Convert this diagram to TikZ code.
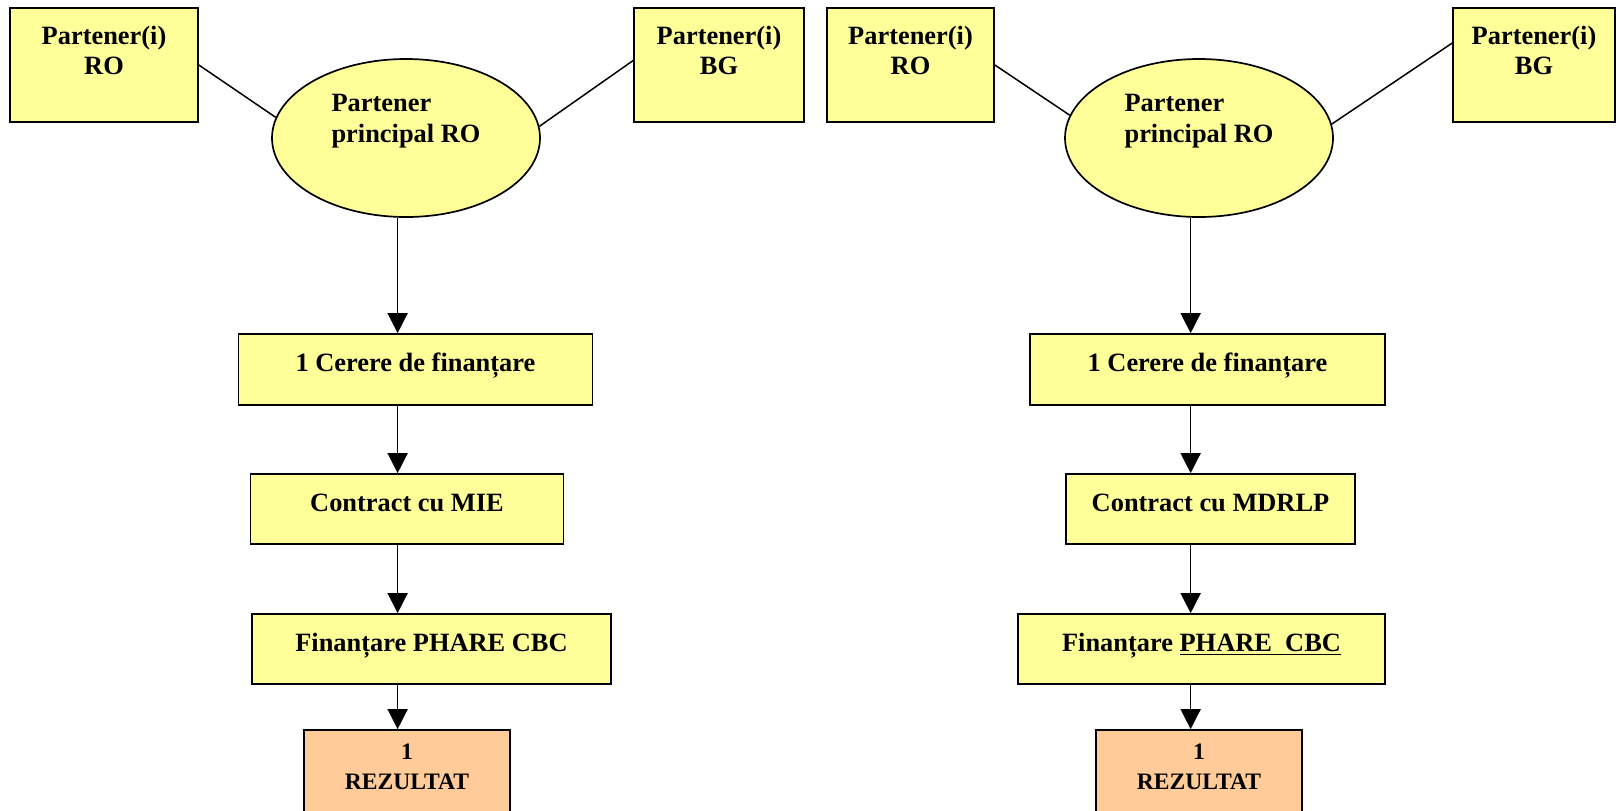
\documentclass[tikz,border=0pt]{standalone}
\usepackage{fontspec}
\setmainfont{Liberation Serif}
\usepackage{xcolor}
\usetikzlibrary{shapes,arrows.meta,positioning}
\definecolor{paleyellow}{HTML}{FFFF99}
\definecolor{paleorange}{HTML}{FFCC99}

\begin{document}
\begin{tikzpicture}[
    x=0.5pt, y=-0.5pt,
    every node/.style={font=\fontsize{13.2}{15}\selectfont\bfseries},
    box/.style={rectangle, draw, line width=0.85pt, fill=paleyellow, inner sep=0pt, align=center},
    partner/.style={box, minimum height=57pt},
    stepbox/.style={box, text height=9pt, text depth=7pt},
    lead/.style={ellipse, draw, line width=0.85pt, fill=paleyellow, minimum width=134pt, minimum height=79pt, inner sep=0pt, align=left, font=\fontsize{13.2}{15.5}\selectfont\bfseries},
    result/.style={box, fill=paleorange, minimum width=103pt, minimum height=45pt, font=\fontsize{11.8}{15}\selectfont\bfseries},
    link/.style={line width=0.75pt},
    arrow/.style={-{Triangle[length=10pt,width=10pt]}, line width=0.75pt}
]
\useasboundingbox (0,0) rectangle (1621,810);

% left diagram
\node[partner, minimum width=94pt] (roL) at (104,65) {Partener(i)\\RO\\\mbox{}};
\node[partner, minimum width=85pt] (bgL) at (719,65) {Partener(i)\\BG\\\mbox{}};
\node[lead] (ellL) at (406,138) {Partener\\principal RO\\[4pt]\mbox{}};
\node[stepbox, minimum width=177pt, minimum height=35.5pt] (cerL) at (415.5,369.5) {1 Cerere de finanțare};
\node[stepbox, minimum width=156.5pt, minimum height=35pt] (conL) at (407,509) {Contract cu MIE};
\node[stepbox, minimum width=179.5pt, minimum height=35pt] (finL) at (431.5,649) {Finanțare PHARE CBC};
\node[result] (rezL) at (407,775) {1\\REZULTAT\\[-7pt]\mbox{}};

\draw[link] (roL.east) -- (ellL.171);
\draw[link] (ellL.5) -- (bgL.177);
\draw[arrow] (ellL.264) -- (ellL.264 |- cerL.north);
\draw[arrow] (ellL.264 |- cerL.south) -- (ellL.264 |- conL.north);
\draw[arrow] (ellL.264 |- conL.south) -- (ellL.264 |- finL.north);
\draw[arrow] (ellL.264 |- finL.south) -- (ellL.264 |- rezL.north);

% right diagram
\node[partner, minimum width=83.5pt] (roR) at (910.5,65) {Partener(i)\\RO\\\mbox{}};
\node[partner, minimum width=81pt] (bgR) at (1534,65) {Partener(i)\\BG\\\mbox{}};
\node[lead] (ellR) at (1199,138) {Partener\\principal RO\\[4pt]\mbox{}};
\node[stepbox, minimum width=177.5pt, minimum height=35.5pt] (cerR) at (1207.5,369.5) {1 Cerere de finanțare};
\node[stepbox, minimum width=144.5pt, minimum height=35pt] (conR) at (1210.5,509) {Contract cu MDRLP};
\node[stepbox, minimum width=183.5pt, minimum height=35pt] (finR) at (1201.5,649) {Finanțare \underline{PHARE\ \ CBC}};
\node[result] (rezR) at (1199,775) {1\\REZULTAT\\[-7pt]\mbox{}};

\draw[link] (roR.east) -- (ellR.170);
\draw[link] (ellR.6) -- (bgR.165);
\draw[arrow] (ellR.264) -- (ellR.264 |- cerR.north);
\draw[arrow] (ellR.264 |- cerR.south) -- (ellR.264 |- conR.north);
\draw[arrow] (ellR.264 |- conR.south) -- (ellR.264 |- finR.north);
\draw[arrow] (ellR.264 |- finR.south) -- (ellR.264 |- rezR.north);
\end{tikzpicture}
\end{document}
